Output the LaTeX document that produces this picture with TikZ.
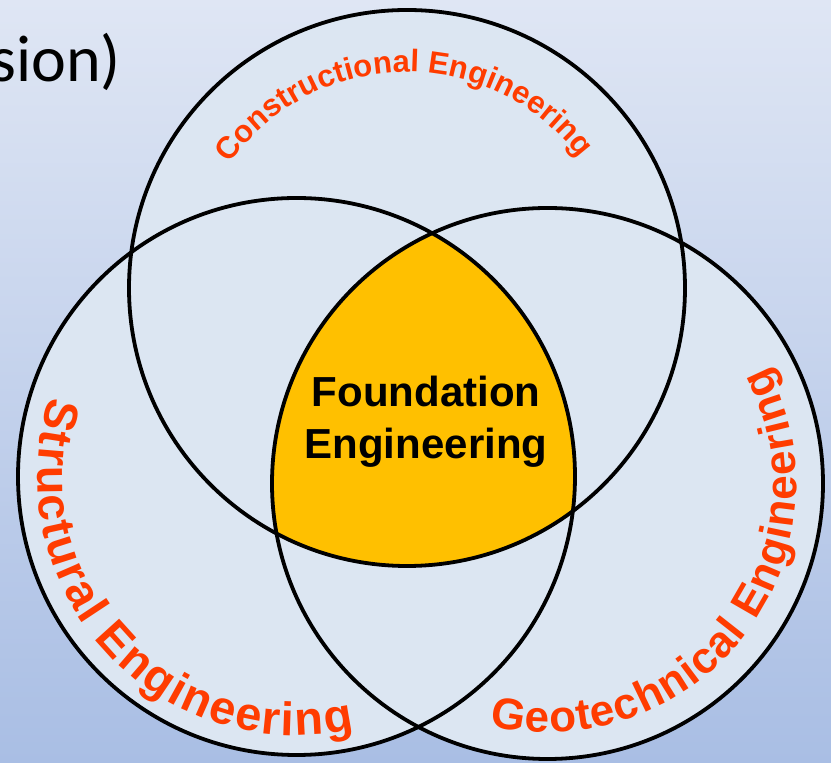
\documentclass[tikz,border=0pt]{standalone}
\usepackage{fontspec}
\setmainfont{Liberation Sans}
\newfontfamily\titlefont{Carlito}
\usepackage{tikz}
\usetikzlibrary{decorations.text}
\definecolor{bgtop}{HTML}{DFE6F4}
\definecolor{bgbottom}{HTML}{A9BEE4}
\definecolor{ringfill}{HTML}{DCE6F2}
\definecolor{gold}{HTML}{FFC000}
\definecolor{flame}{HTML}{FF3C00}

\begin{document}
\begin{tikzpicture}[x=1pt,y=1pt,
    ring/.style={draw=black,line width=3.8pt},
    arclabel/.style={decorate,decoration={text along path,text align={fit to path},text color=flame}}]
  \shade[top color=bgtop,bottom color=bgbottom] (0,0) rectangle (831,763);
  \useasboundingbox (0,0) rectangle (831,763);
  % circle centres
  \coordinate (cT) at (407,475);
  \coordinate (cL) at (296.5,286.5);
  \coordinate (cR) at (547.5,279.5);
  \node[anchor=base east,inner sep=0pt,font=\titlefont\fontsize{66}{70}\selectfont] (title) at (121,681) {sion)};
  % fills
  \fill[ringfill] (cT) circle[radius=278pt];
  \fill[ringfill] (cL) circle[radius=278.5pt];
  \fill[ringfill] (cR) circle[radius=275.5pt];
  \begin{scope}
    \clip (cL) circle[radius=278.5pt];
    \clip (cR) circle[radius=275.5pt];
    \fill[gold] (cT) circle[radius=278pt];
  \end{scope}
  % outlines
  \draw[ring] (cT) circle[radius=278pt];
  \draw[ring] (cL) circle[radius=278.5pt];
  \draw[ring] (cR) circle[radius=275.5pt];
  \node[align=center,inner sep=0pt,font=\bfseries\fontsize{42}{52}\selectfont] (found) at (426,341) {Foundation\\Engineering};
  % labels along the rings
  \path[arclabel,decoration={text={|\bfseries\fontsize{31}{34}\selectfont|Constructional Engineering}}]
    (cT) ++(145:216pt) arc[start angle=145,end angle=37,radius=216pt];
  \path[arclabel,decoration={text={|\bfseries\fontsize{47}{50}\selectfont|Structural Engineering}}]
    (cL) ++(162:259pt) arc[start angle=162,end angle=283,radius=259pt];
  \path[arclabel,decoration={text={|\bfseries\fontsize{44}{48}\selectfont|Geotechnical Engineering}}]
    (cR) ++(256.5:249pt) arc[start angle=256.5,end angle=388,radius=249pt];
\end{tikzpicture}
\end{document}
